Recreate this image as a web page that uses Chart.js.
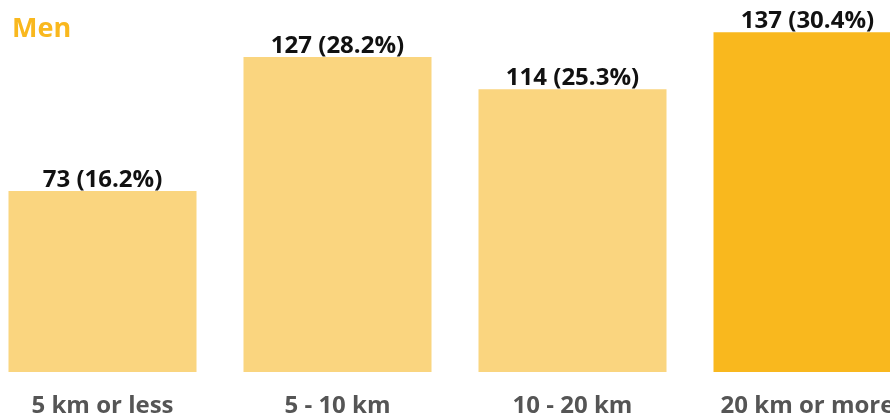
<!DOCTYPE html>
<html>
<head>
<meta charset="utf-8">
<script src="https://cdn.jsdelivr.net/npm/chart.js@4.4.1/dist/chart.umd.min.js"></script>
<style>
  html, body { margin:0; padding:0; background:#fff; overflow:hidden; }
  #wrap { position:relative; width:890px; height:416px; overflow:hidden; }
  #box  { position:absolute; left:-15px; top:0; width:940px; height:416px; }
  #title { position:absolute; left:12px; top:8px; font:700 27px "Open Sans", sans-serif;
           color:#F9B81E; z-index:2; }
</style>
</head>
<body>
<div id="wrap">
  <div id="title">Men</div>
  <div id="box"><canvas id="c"></canvas></div>
</div>
<script>
/* données */
const categories = ['5 km or less', '5 - 10 km', '10 - 20 km', '20 km or more'];
const counts     = [73, 127, 114, 137];
const percents   = ['16.2%', '28.2%', '25.3%', '30.4%'];
const barColors  = ['#FAD57F', '#FAD57F', '#FAD57F', '#F9B81E'];

/* étiquettes au-dessus des barres */
const topLabels = {
  id: 'topLabels',
  afterDatasetsDraw(chart) {
    const ctx = chart.ctx;
    const meta = chart.getDatasetMeta(0);
    ctx.save();
    ctx.font = '700 24px "Open Sans", sans-serif';
    ctx.fillStyle = '#111';
    ctx.textAlign = 'center';
    ctx.textBaseline = 'bottom';
    meta.data.forEach((bar, i) => {
      ctx.fillText(`${counts[i]} (${percents[i]})`, bar.x, bar.y + 1);
    });
    ctx.restore();
  }
};

new Chart(document.getElementById('c'), {
  type: 'bar',
  data: {
    labels: categories,
    datasets: [{ data: counts, backgroundColor: barColors,
                 barPercentage: 0.8, categoryPercentage: 1.0 }]
  },
  plugins: [topLabels],
  options: {
    responsive: true,
    maintainAspectRatio: false,
    animation: false,
    layout: { padding: 0 },
    plugins: { legend: { display: false }, tooltip: { enabled: false }, title: { display: false } },
    scales: {
      x: {
        grid: { display: false, drawTicks: false },
        border: { display: false },
        afterFit: s => { s.height = 44; },
        ticks: { color: '#555', padding: 20, maxRotation: 0, autoSkip: false,
                 font: { family: 'Open Sans', weight: '700', size: 24 } }
      },
      y: { display: false, min: 0, max: 150 }
    }
  }
});
</script>
</body>
</html>
